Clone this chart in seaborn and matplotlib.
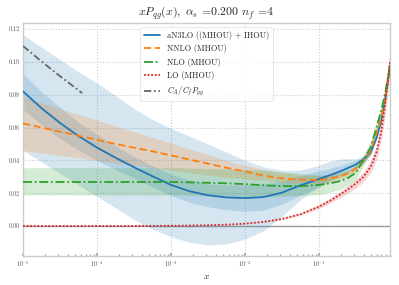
import numpy as np
import pandas as pd
import matplotlib
matplotlib.use("Agg")
import matplotlib.pyplot as plt
import seaborn as sns

# ---- data ----
log_x = [-5, -4.75, -4.5, -4.25, -4, -3.75, -3.5, -3.25, -3, -2.75, -2.5, -2.25, -2,
         -1.75, -1.5, -1.25, -1, -0.85, -0.7, -0.6, -0.5, -0.4, -0.3, -0.22, -0.16,
         -0.11, -0.07, -0.04]

n3lo = [0.0820, 0.0718, 0.0628, 0.0548, 0.0478, 0.0416, 0.0358, 0.0303, 0.0250, 0.0212,
        0.0187, 0.0174, 0.0170, 0.0176, 0.0203, 0.0248, 0.0286, 0.0310, 0.0335, 0.0355,
        0.0375, 0.0405, 0.0450, 0.0540, 0.0640, 0.0760, 0.0880, 0.0980]
n3lo_hi = [0.1165, 0.1090, 0.1015, 0.0940, 0.0870, 0.0795, 0.0715, 0.0648, 0.0595, 0.0548,
           0.0500, 0.0450, 0.0400, 0.0360, 0.0340, 0.0340, 0.0370, 0.0395, 0.0408, 0.0410,
           0.0410, 0.0420, 0.0465, 0.0550, 0.0650, 0.0770, 0.0890, 0.0990]
n3lo_lo = [0.0460, 0.0390, 0.0320, 0.0250, 0.0180, 0.0110, 0.0040, -0.0020, -0.0065, -0.0100,
           -0.0116, -0.0110, -0.0080, -0.0030, 0.0060, 0.0160, 0.0240, 0.0280, 0.0315, 0.0338,
           0.0360, 0.0390, 0.0435, 0.0530, 0.0630, 0.0750, 0.0870, 0.0970]
n3lo_ihou = [0.0110, 0.0100, 0.0095, 0.0085, 0.0080, 0.0072, 0.0066, 0.0064, 0.0065, 0.0068,
             0.0070, 0.0075, 0.0080, 0.0080, 0.0070, 0.0060, 0.0050, 0.0040, 0.0035, 0.0030,
             0.0025, 0.0020, 0.0015, 0.0010, 0.0010, 0.0010, 0.0010, 0.0010]

nnlo = [0.0625, 0.0600, 0.0575, 0.0550, 0.0525, 0.0500, 0.0477, 0.0455, 0.0430, 0.0405,
        0.0380, 0.0355, 0.0332, 0.0307, 0.0290, 0.0282, 0.0280, 0.0288, 0.0305, 0.0322,
        0.0350, 0.0400, 0.0460, 0.0570, 0.0660, 0.0770, 0.0890, 0.0980]
nnlo_hi = [0.0788, 0.0752, 0.0716, 0.0680, 0.0645, 0.0610, 0.0575, 0.0540, 0.0505, 0.0470,
           0.0435, 0.0400, 0.0370, 0.0345, 0.0325, 0.0310, 0.0305, 0.0310, 0.0325, 0.0340,
           0.0365, 0.0415, 0.0480, 0.0590, 0.0680, 0.0790, 0.0910, 0.1000]
nnlo_lo = [0.0459, 0.0445, 0.0430, 0.0415, 0.0400, 0.0385, 0.0368, 0.0355, 0.0340, 0.0325,
           0.0310, 0.0297, 0.0287, 0.0278, 0.0265, 0.0258, 0.0258, 0.0268, 0.0287, 0.0305,
           0.0333, 0.0380, 0.0440, 0.0550, 0.0640, 0.0750, 0.0870, 0.0960]

nlo = [0.0268, 0.0268, 0.0268, 0.0268, 0.0268, 0.0268, 0.0268, 0.0268, 0.0268, 0.0266,
       0.0263, 0.0260, 0.0255, 0.0248, 0.0243, 0.0243, 0.0250, 0.0260, 0.0275, 0.0295,
       0.0325, 0.0400, 0.0480, 0.0605, 0.0700, 0.0800, 0.0900, 0.0970]
nlo_hi = [0.0355, 0.0355, 0.0355, 0.0355, 0.0355, 0.0355, 0.0355, 0.0355, 0.0355, 0.0353,
          0.0350, 0.0348, 0.0345, 0.0340, 0.0330, 0.0320, 0.0310, 0.0315, 0.0325, 0.0340,
          0.0370, 0.0435, 0.0520, 0.0640, 0.0735, 0.0830, 0.0930, 0.1000]
nlo_lo = [0.0189, 0.0189, 0.0189, 0.0189, 0.0189, 0.0189, 0.0189, 0.0189, 0.0189, 0.0187,
          0.0185, 0.0183, 0.0180, 0.0180, 0.0180, 0.0185, 0.0190, 0.0205, 0.0225, 0.0250,
          0.0280, 0.0365, 0.0440, 0.0570, 0.0665, 0.0770, 0.0870, 0.0940]

lo = [0.0, 0.0, 0.0, 0.0, 0.00001, 0.00003, 0.00005, 0.00008, 0.00014, 0.00025,
      0.00045, 0.0008, 0.0014, 0.0025, 0.0043, 0.0072, 0.0118, 0.0154, 0.0196, 0.0226,
      0.0259, 0.0299, 0.0361, 0.0452, 0.0571, 0.0729, 0.0880, 0.1000]
lo_lo = [0.0, 0.0, 0.0, 0.0, 0.00001, 0.00003, 0.00004, 0.00007, 0.00013, 0.00022,
         0.0004, 0.0007, 0.0013, 0.0022, 0.0039, 0.0065, 0.0106, 0.0139, 0.0176, 0.0203,
         0.0233, 0.0269, 0.0325, 0.0407, 0.0514, 0.0656, 0.0800, 0.0920]
lo_hi = [0.0, 0.0, 0.0, 0.0, 0.00001, 0.00003, 0.00006, 0.00009, 0.00015, 0.00028,
         0.0005, 0.0009, 0.0015, 0.0028, 0.0047, 0.0079, 0.0130, 0.0169, 0.0216, 0.0249,
         0.0285, 0.0329, 0.0397, 0.0497, 0.0628, 0.0802, 0.0960, 0.1070]

gg_log_x = [-5, -4.75, -4.5, -4.2]
gg = [0.1097, 0.1003, 0.0913, 0.0810]

labels = ["aN3LO ((MHOU) + IHOU)", "NNLO (MHOU)", "NLO (MHOU)", "LO (MHOU)",
          r"$C_A/C_f P_{gg}$"]
title = r"$xP_{qg}(x),\ \alpha_s$ =0.200 $n_f$ =4"

# ---- styling ----
sns.set_theme(style="whitegrid")
plt.rcParams["font.family"] = "serif"
plt.rcParams["font.serif"] = ["cmr10", "DejaVu Serif"]
plt.rcParams["mathtext.fontset"] = "cm"
plt.rcParams["axes.formatter.use_mathtext"] = True
plt.rcParams["axes.unicode_minus"] = False

x = 10.0 ** np.array(log_x)
xg = 10.0 ** np.array(gg_log_x)
n3lo_a = np.array(n3lo)
ihou = np.array(n3lo_ihou)

fig = plt.figure(figsize=(3.99, 2.85), dpi=100)
ax = fig.add_axes([23/399, 29/285, 367/399, 233/285])

blue, orange, green, red = "#1f77b4", "#ff7f0e", "#2ca02c", "#d62728"

ax.axhline(0, color="#999999", lw=1.0, zorder=1)

ax.fill_between(x, n3lo_lo, n3lo_hi, color=blue, alpha=0.18, lw=0, zorder=2)
ax.fill_between(x, n3lo_a - ihou, n3lo_a + ihou, color=blue, alpha=0.18, lw=0, zorder=2)
ax.fill_between(x, nnlo_lo, nnlo_hi, color=orange, alpha=0.2, lw=0, zorder=2)
ax.fill_between(x, nlo_lo, nlo_hi, color=green, alpha=0.2, lw=0, zorder=2)
ax.fill_between(x, lo_lo, lo_hi, color=red, alpha=0.2, lw=0, zorder=2)

df = pd.DataFrame({"x": x, "n3lo": n3lo, "nnlo": nnlo, "nlo": nlo, "lo": lo})
sns.lineplot(data=df, x="x", y="n3lo", ax=ax, color=blue, lw=1.3, label=labels[0], zorder=3)
sns.lineplot(data=df, x="x", y="nnlo", ax=ax, color=orange, lw=1.3, ls=(0, (4, 2)),
             label=labels[1], zorder=3)
sns.lineplot(data=df, x="x", y="nlo", ax=ax, color=green, lw=1.3, ls=(0, (5, 1.5, 1, 1.5)),
             label=labels[2], zorder=3)
sns.lineplot(data=df, x="x", y="lo", ax=ax, color=red, lw=1.3, ls=(0, (1, 1)),
             label=labels[3], zorder=3)
dg = pd.DataFrame({"x": xg, "gg": gg})
sns.lineplot(data=dg, x="x", y="gg", ax=ax, color="#666666", lw=1.3, ls=(0, (4, 1.5, 1, 1.5)),
             label=labels[4], zorder=3)

ax.set_xscale("log")
ax.set_xlim(1e-5, 0.912)
ax.set_ylim(-0.0183, 0.1237)
ax.set_yticks([0.0, 0.02, 0.04, 0.06, 0.08, 0.10, 0.12])
ax.set_yticklabels(["0.00", "0.02", "0.04", "0.06", "0.08", "0.10", "0.12"])
ax.set_xticks([1e-5, 1e-4, 1e-3, 1e-2, 1e-1])
ax.set_xticklabels([r"$10^{-5}$", r"$10^{-4}$", r"$10^{-3}$", r"$10^{-2}$", r"$10^{-1}$"])

ax.grid(True, which="major", ls=":", color="#cccccc", lw=0.8)
ax.grid(False, which="minor")
for s in ax.spines.values():
    s.set_color("#cccccc")
    s.set_linewidth(1.0)
ax.tick_params(axis="both", which="major", labelsize=4.5, labelcolor="#555555",
               direction="in", length=2, color="#aaaaaa", pad=2)
ax.tick_params(axis="x", which="minor", direction="in", length=1.5, color="#aaaaaa",
               bottom=True)
ax.tick_params(axis="y", which="both", left=False)
ax.tick_params(axis="x", which="major", bottom=True)

ax.set_xlabel(r"$x$", fontsize=7, labelpad=3)
ax.set_ylabel("")
ax.set_title(title, fontsize=8.5, pad=5)

leg = ax.legend(loc="upper center", fontsize=6, frameon=True, handlelength=2.0,
                borderaxespad=0.5, labelspacing=0.55, fancybox=True)
leg.get_frame().set_edgecolor("#dddddd")
leg.get_frame().set_linewidth(0.6)

fig.savefig("out.png", dpi=100)
